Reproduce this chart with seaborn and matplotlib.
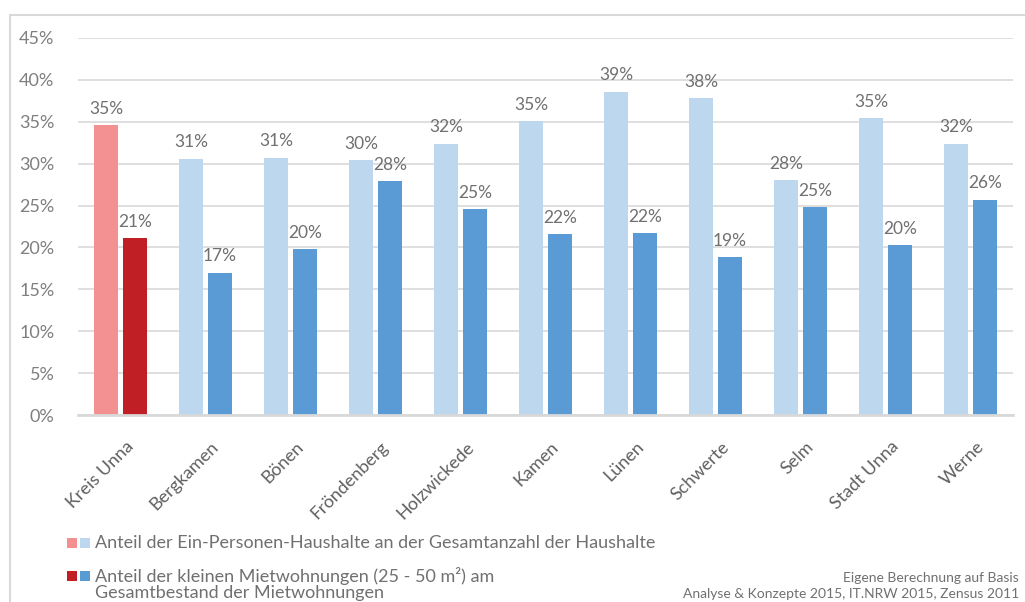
import matplotlib
matplotlib.use("Agg")
import matplotlib.pyplot as plt
import matplotlib.transforms as mtransforms
import seaborn as sns
import pandas as pd
from matplotlib.lines import Line2D
from matplotlib.patches import Rectangle

categories = ["Kreis Unna", "Bergkamen", "Bönen", "Fröndenberg", "Holzwickede", "Kamen",
              "Lünen", "Schwerte", "Selm", "Stadt Unna", "Werne"]
ein_personen = [34.6, 30.6, 30.7, 30.4, 32.4, 35.1, 38.6, 37.8, 28.0, 35.4, 32.4]
kleine_wohnungen = [21.1, 17.0, 19.8, 27.9, 24.6, 21.6, 21.7, 18.8, 24.8, 20.3, 25.7]
series_names = ["Anteil der Ein-Personen-Haushalte an der Gesamtanzahl der Haushalte",
                "Anteil der kleinen Mietwohnungen (25 - 50 m²) am\nGesamtbestand der Mietwohnungen"]
yticks = [0, 5, 10, 15, 20, 25, 30, 35, 40, 45]

light_red, dark_red = "#F39192", "#C01F26"
light_blue, dark_blue = "#BDD7EE", "#5B9BD5"
text_col = "#7F7F7F"
grid_col = "#D9D9D9"

sns.set_theme(style="white")
plt.rcParams['font.family'] = ['Lato', 'DejaVu Sans']

df = pd.DataFrame({
    "Kategorie": categories * 2,
    "Wert": ein_personen + kleine_wohnungen,
    "Serie": [series_names[0]] * len(categories) + [series_names[1]] * len(categories),
})

fig = plt.figure(figsize=(10.25, 6.02), dpi=100)
ax = fig.add_axes([78 / 1025, 1 - 415 / 602, (1013 - 78) / 1025, (415 - 38) / 602])

sns.barplot(data=df, x="Kategorie", y="Wert", hue="Serie", order=categories,
            hue_order=series_names, palette=[light_blue, dark_blue],
            width=0.68, gap=0.2, ax=ax, legend=False, saturation=1, errorbar=None)

n = len(categories)
bars = ax.patches[:2 * n]
bars[0].set_facecolor(light_red)
bars[n].set_facecolor(dark_red)
for b in bars:
    b.set_edgecolor("none")

for b in bars:
    h = b.get_height()
    ax.annotate(f"{h:.0f}%", (b.get_x() + b.get_width() / 2, h), xytext=(0, 6),
                textcoords="offset points", ha="center", va="bottom",
                fontsize=12.5, color="#707070")

ax.set_ylim(0, 45)
ax.set_xlim(-0.5, n - 0.5)
ax.set_yticks(yticks)
ax.set_yticklabels([f"{t}%" for t in yticks])
ax.yaxis.grid(True, color=grid_col, lw=1.2)
ax.set_axisbelow(True)
for s in ["top", "right", "left"]:
    ax.spines[s].set_visible(False)
ax.spines["bottom"].set_color(grid_col)
ax.spines["bottom"].set_linewidth(2)
ax.tick_params(axis="y", length=0, pad=17, labelsize=13, labelcolor=text_col)
ax.tick_params(axis="x", length=0, pad=17, labelsize=13, labelcolor="#606060")
ax.set_xlabel("")
ax.set_ylabel("")
plt.setp(ax.get_xticklabels(), rotation=45, ha="right", rotation_mode="anchor")
offset = mtransforms.ScaledTranslation(5 / 100, 0, fig.dpi_scale_trans)
for lbl in ax.get_xticklabels():
    lbl.set_transform(lbl.get_transform() + offset)

# frame lines
fig.add_artist(Line2D([10 / 1025, 1.0], [1 - 15 / 602, 1 - 15 / 602], color=grid_col, lw=1.5))
fig.add_artist(Line2D([10 / 1025, 10 / 1025], [0, 1 - 15 / 602], color=grid_col, lw=1.5))

# legend
def sq(x, y, c):
    fig.add_artist(Rectangle((x / 1025, 1 - (y + 10) / 602), 10 / 1025, 10 / 602,
                             transform=fig.transFigure, color=c, lw=0))

sq(67, 538, light_red); sq(80, 538, light_blue)
sq(67, 571, dark_red); sq(80, 571, dark_blue)
fig.text(95 / 1025, 1 - 543 / 602, series_names[0], fontsize=13, color="#707070", va="center")
fig.text(95 / 1025, 1 - 576 / 602, "Anteil der kleinen Mietwohnungen (25 - 50 m²) am",
         fontsize=13, color="#707070", va="center")
fig.text(95 / 1025, 1 - 593 / 602, "Gesamtbestand der Mietwohnungen",
         fontsize=13, color="#707070", va="center")
fig.text(1019 / 1025, 1 - 578 / 602, "Eigene Berechnung auf Basis", fontsize=10,
         color="#707070", ha="right", va="center")
fig.text(1019 / 1025, 1 - 594 / 602, "Analyse & Konzepte 2015, IT.NRW 2015, Zensus 2011",
         fontsize=10, color="#707070", ha="right", va="center")

fig.savefig("out.png", dpi=100)
